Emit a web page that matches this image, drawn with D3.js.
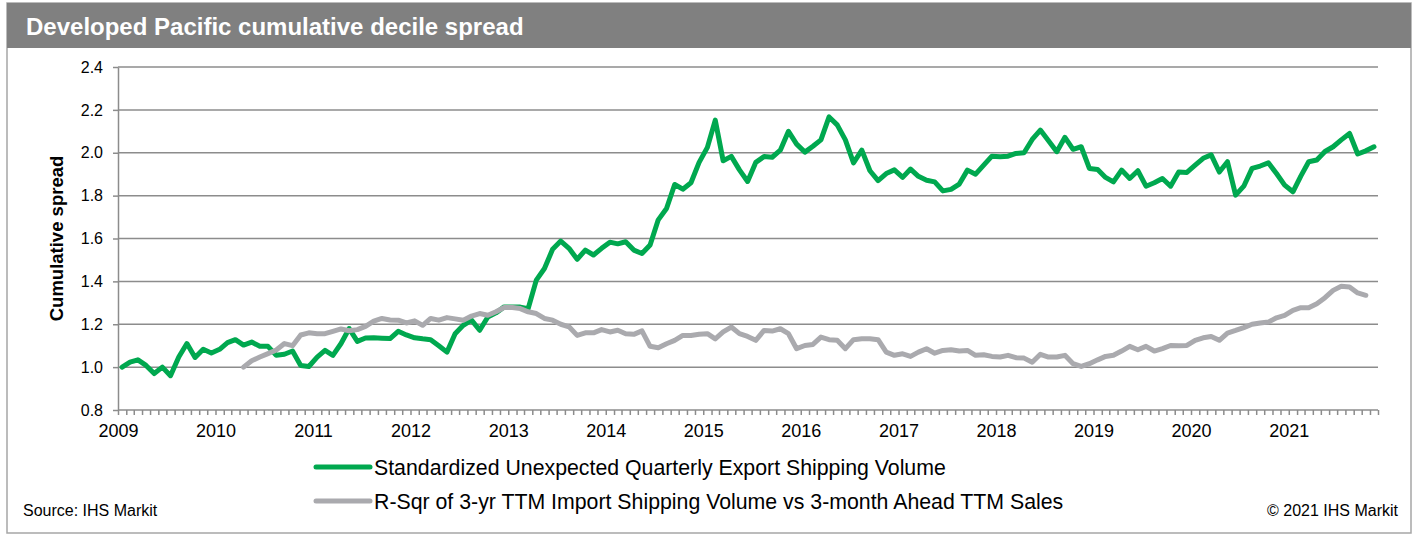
<!doctype html>
<meta charset="utf-8">

<style>
  body { margin: 0; background: #fff; }
  svg text { font-family: Arial, "Liberation Sans", sans-serif; fill: #000; }
  .axis path, .axis line { stroke: #8c8c8c; stroke-width: 1.5; }
  .grid line { stroke: #8c8c8c; stroke-width: 1.5; }
  .series { fill: none; stroke-width: 5; stroke-linejoin: round; stroke-linecap: round; }
</style>

<svg id="chart" width="1418" height="535"></svg>

<script src="https://d3js.org/d3.v7.min.js"></script>

<script>
  const title = "Developed Pacific cumulative decile spread";
  const yTitle = "Cumulative spread";
  const seriesNames = [
    "Standardized Unexpected Quarterly Export Shipping Volume",
    "R-Sqr of 3-yr TTM Import Shipping Volume vs 3-month Ahead TTM Sales"
  ];
  const seriesColours = ["#00a84f", "#aaaaae"];
  const yTicks = [0.8, 1.0, 1.2, 1.4, 1.6, 1.8, 2.0, 2.2, 2.4];
  const yearLabels = ["2009", "2010", "2011", "2012", "2013", "2014", "2015",
                      "2016", "2017", "2018", "2019", "2020", "2021"];

  // monthly, Jan 2009 onwards
  const sueStart = new Date(2009, 0, 1);
  const sueExport = [
    1.00, 1.023, 1.034, 1.008, 0.97, 1.00, 0.96, 1.047, 1.11, 1.045, 1.083, 1.066,
    1.083, 1.114, 1.128, 1.103, 1.117, 1.097, 1.097, 1.055, 1.06, 1.075, 1.008, 1.003,
    1.047, 1.078, 1.055, 1.11, 1.18, 1.12, 1.136, 1.137, 1.135, 1.133, 1.167, 1.15,
    1.137, 1.132, 1.128, 1.10, 1.07, 1.156, 1.195, 1.219, 1.172, 1.234, 1.253, 1.281,
    1.281, 1.28, 1.273, 1.406, 1.46, 1.55, 1.588, 1.554, 1.503, 1.546, 1.523, 1.554,
    1.583, 1.575, 1.585, 1.546, 1.53, 1.57, 1.687, 1.74, 1.852, 1.83, 1.86, 1.955,
    2.025, 2.152, 1.963, 1.983, 1.92, 1.866, 1.955, 1.982, 1.979, 2.012, 2.1, 2.04,
    2.003, 2.03, 2.06, 2.167, 2.13, 2.06, 1.953, 2.012, 1.916, 1.87, 1.903, 1.92,
    1.885, 1.924, 1.89, 1.872, 1.864, 1.822, 1.829, 1.854, 1.919, 1.9, 1.942, 1.984,
    1.981, 1.984, 1.997, 2.0, 2.062, 2.106, 2.056, 2.005, 2.072, 2.016, 2.028, 1.927,
    1.922, 1.885, 1.864, 1.919, 1.88, 1.916, 1.844, 1.86, 1.88, 1.844, 1.91, 1.908,
    1.942, 1.974, 1.99, 1.91, 1.958, 1.802, 1.844, 1.927, 1.938, 1.953, 1.903, 1.849,
    1.818, 1.891, 1.958, 1.966, 2.006, 2.028, 2.06, 2.09, 1.994, 2.009, 2.028
  ];

  // monthly, Apr 2010 onwards
  const rsqStart = new Date(2010, 3, 1);
  const rsqImport = [
    1.00, 1.03, 1.047, 1.063, 1.08, 1.11, 1.10, 1.15, 1.16,
    1.156, 1.156, 1.167, 1.178, 1.17, 1.175, 1.19, 1.215, 1.227, 1.22, 1.219, 1.206,
    1.216, 1.195, 1.227, 1.219, 1.231, 1.225, 1.219, 1.238, 1.25, 1.242, 1.258, 1.278,
    1.278, 1.273, 1.258, 1.25, 1.227, 1.219, 1.2, 1.188, 1.148, 1.16, 1.16, 1.175,
    1.164, 1.172, 1.156, 1.153, 1.169, 1.097, 1.09, 1.109, 1.125, 1.148, 1.148, 1.153,
    1.156, 1.132, 1.164, 1.187, 1.156, 1.143, 1.125, 1.171, 1.168, 1.179, 1.156, 1.086,
    1.101, 1.106, 1.14, 1.128, 1.125, 1.086, 1.128, 1.132, 1.132, 1.128, 1.07, 1.055,
    1.062, 1.05, 1.07, 1.086, 1.065, 1.078, 1.081, 1.075, 1.078, 1.055, 1.058, 1.05,
    1.047, 1.055, 1.044, 1.042, 1.023, 1.06, 1.047, 1.047, 1.055, 1.016, 1.003, 1.016,
    1.034, 1.05, 1.055, 1.075, 1.097, 1.081, 1.097, 1.075, 1.086, 1.101, 1.1, 1.101,
    1.125, 1.137, 1.143, 1.125, 1.159, 1.171, 1.184, 1.2, 1.206, 1.21, 1.23, 1.241,
    1.265, 1.277, 1.277, 1.296, 1.324, 1.358, 1.377, 1.374, 1.346, 1.335
  ];

  let svg = d3.select("#chart");
  let W = 1418, H = 535;
  let plot = {left: 118, right: 1378, top: 67, bottom: 410};

  // frame + title bar
  svg.append("rect")
    .attr("x", 7).attr("y", 3).attr("width", W - 14).attr("height", H - 5)
    .attr("fill", "#fff").attr("stroke", "#a6a6a6").attr("stroke-width", 1.5);
  svg.append("rect")
    .attr("x", 7).attr("y", 3).attr("width", W - 14).attr("height", 45)
    .attr("fill", "#808080");
  svg.append("text")
    .attr("x", 26).attr("y", 35)
    .style("font-size", "24px").style("font-weight", "bold").style("fill", "#fff")
    .text(title);

  let monthsOf = (start, values) => values.map((v, i) => ({
    date: d3.timeMonth.offset(start, i), value: v
  }));
  let sue = monthsOf(sueStart, sueExport);
  let rsq = monthsOf(rsqStart, rsqImport);

  let axisEnd = d3.timeMonth.offset(sueStart, sueExport.length);
  let x = d3.scaleTime().domain([sueStart, axisEnd]).range([plot.left, plot.right]);
  let y = d3.scaleLinear().domain([0.8, 2.4]).range([plot.bottom, plot.top]);

  // points sit in the middle of their month
  let mid = d => new Date((+d + +d3.timeMonth.offset(d, 1)) / 2);

  // gridlines
  svg.append("g").attr("class", "grid")
    .selectAll("line")
    .data(yTicks.slice(1))
    .enter().append("line")
    .attr("x1", plot.left).attr("x2", plot.right)
    .attr("y1", d => y(d)).attr("y2", d => y(d));

  // y axis
  let yAxis = svg.append("g")
    .attr("class", "axis")
    .attr("transform", `translate(${plot.left},0)`)
    .call(d3.axisLeft(y).tickValues(yTicks).tickSize(5).tickSizeOuter(0)
      .tickPadding(10).tickFormat(d3.format(".1f")));
  yAxis.selectAll("text").style("font-size", "16px");

  // x axis, one tick a month, label each January
  let xAxis = svg.append("g")
    .attr("class", "axis")
    .attr("transform", `translate(0,${plot.bottom})`)
    .call(d3.axisBottom(x)
      .tickValues(d3.timeMonth.range(sueStart, d3.timeMonth.offset(axisEnd, 1)))
      .tickSize(5).tickSizeOuter(0).tickPadding(9)
      .tickFormat(d => d.getMonth() === 0 && yearLabels.includes(String(d.getFullYear()))
        ? String(d.getFullYear()) : ""));
  xAxis.selectAll("text").style("font-size", "18px");
  xAxis.select(".domain").attr("d", `M${plot.left},0H${plot.right}`);

  svg.append("text")
    .attr("transform", `translate(63,${(plot.top + plot.bottom) / 2}) rotate(-90)`)
    .attr("text-anchor", "middle")
    .style("font-size", "18.5px").style("font-weight", "bold")
    .text(yTitle);

  // series
  let line = d3.line().x(d => x(mid(d.date))).y(d => y(d.value));
  svg.selectAll(".series")
    .data([sue, rsq])
    .enter().append("path")
    .attr("class", "series")
    .attr("stroke", (d, i) => seriesColours[i])
    .attr("d", line);

  // legend
  let legend = svg.append("g").selectAll("g")
    .data(seriesNames)
    .enter().append("g")
    .attr("transform", (d, i) => `translate(316,${467 + i * 34})`);
  legend.append("line")
    .attr("x1", 0).attr("x2", 54)
    .attr("stroke", (d, i) => seriesColours[i])
    .attr("stroke-width", 5).attr("stroke-linecap", "round");
  legend.append("text")
    .attr("x", 58).attr("y", 7.5)
    .style("font-size", "21.3px")
    .text(d => d);

  svg.append("text")
    .attr("x", 23).attr("y", 516)
    .style("font-size", "16px")
    .text("Source: IHS Markit");
  svg.append("text")
    .attr("x", 1398).attr("y", 516)
    .attr("text-anchor", "end")
    .style("font-size", "16px")
    .text("\u00a9 2021 IHS Markit");
</script>
